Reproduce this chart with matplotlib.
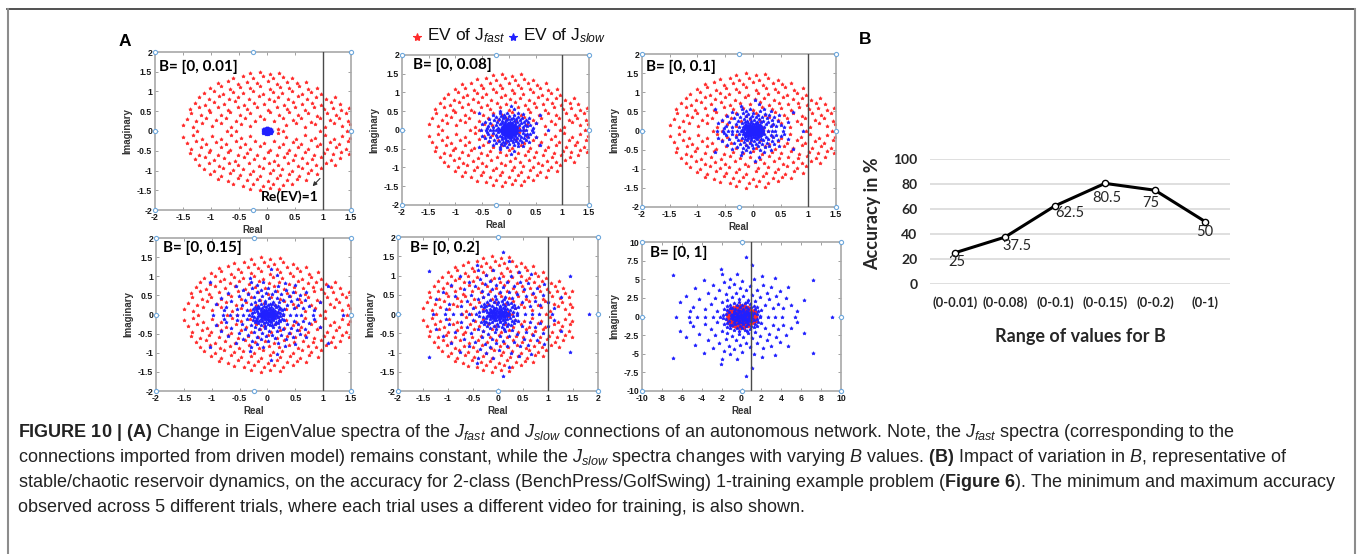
import numpy as np
import matplotlib
matplotlib.use('Agg')
import matplotlib.pyplot as plt
from matplotlib.lines import Line2D

plt.rcParams['font.family'] = ['Liberation Sans', 'DejaVu Sans']
plt.rcParams['mathtext.fontset'] = 'custom'
plt.rcParams['mathtext.rm'] = 'Liberation Sans'
plt.rcParams['mathtext.it'] = 'Liberation Sans:italic'
plt.rcParams['mathtext.bf'] = 'Liberation Sans:bold'

#
# Data
#
# J_fast eigenvalues, upper half plane (real matrix -> conjugate pairs)
jfast_upper = [
    (-1.50, 0.15), (-1.33, 0.10), (-1.16, 0.19), (-0.99, 0.12), (-0.83, 0.20), (-0.64, 0.09), (-0.47, 0.17),
    (-0.31, 0.13), (0.19, 0.06), (0.34, 0.15), (0.51, 0.19), (0.67, 0.10), (0.86, 0.17), (1.03, 0.09),
    (1.19, 0.20), (1.34, 0.12), (1.48, 0.17),
    (-1.43, 0.31), (-1.26, 0.26), (-1.09, 0.34), (-0.91, 0.27), (-0.74, 0.33), (-0.56, 0.25), (-0.39, 0.32),
    (-0.21, 0.26), (-0.06, 0.31), (0.13, 0.25), (0.29, 0.34), (0.46, 0.27), (0.61, 0.33), (0.79, 0.24),
    (0.94, 0.33), (1.12, 0.27), (1.28, 0.32), (1.44, 0.26),
    (-1.36, 0.45), (-1.18, 0.40), (-1.01, 0.47), (-0.83, 0.41), (-0.66, 0.48), (-0.48, 0.40), (-0.30, 0.45),
    (-0.13, 0.39), (0.06, 0.47), (0.22, 0.41), (0.40, 0.48), (0.56, 0.40), (0.73, 0.45), (0.89, 0.39),
    (1.07, 0.46), (1.23, 0.41), (1.41, 0.45),
    (-1.38, 0.56), (-1.21, 0.61), (-1.04, 0.54), (-0.87, 0.60), (-0.70, 0.53), (-0.52, 0.61), (-0.35, 0.56),
    (-0.17, 0.60), (0.01, 0.54), (0.17, 0.61), (0.35, 0.56), (0.50, 0.60), (0.68, 0.53), (0.84, 0.61),
    (1.01, 0.56), (1.17, 0.59), (1.33, 0.54), (1.47, 0.59),
    (-1.29, 0.72), (-1.11, 0.67), (-0.94, 0.74), (-0.76, 0.68), (-0.58, 0.75), (-0.41, 0.67), (-0.23, 0.72),
    (-0.05, 0.68), (0.12, 0.75), (0.30, 0.67), (0.47, 0.73), (0.63, 0.68), (0.81, 0.72), (0.97, 0.66),
    (1.14, 0.73), (1.30, 0.68),
    (-1.21, 0.85), (-1.03, 0.81), (-0.86, 0.88), (-0.68, 0.82), (-0.51, 0.87), (-0.33, 0.80), (-0.15, 0.88),
    (0.03, 0.82), (0.20, 0.86), (0.38, 0.81), (0.55, 0.88), (0.72, 0.82), (0.88, 0.86), (1.05, 0.80),
    (1.21, 0.86),
    (-1.13, 0.96), (-0.95, 1.00), (-0.78, 0.94), (-0.60, 0.99), (-0.43, 0.95), (-0.25, 1.01), (-0.08, 0.94),
    (0.10, 0.99), (0.27, 0.95), (0.45, 1.00), (0.62, 0.94), (0.79, 0.99), (0.96, 0.93),
    (-1.01, 1.09), (-0.83, 1.13), (-0.66, 1.07), (-0.48, 1.12), (-0.30, 1.08), (-0.12, 1.13), (0.05, 1.07),
    (0.23, 1.12), (0.40, 1.08), (0.58, 1.13), (0.74, 1.07), (0.90, 1.10),
    (-0.87, 1.22), (-0.70, 1.26), (-0.52, 1.20), (-0.35, 1.25), (-0.17, 1.21), (0.01, 1.26), (0.18, 1.20),
    (0.36, 1.25), (0.53, 1.21), (0.69, 1.25),
    (-0.60, 1.35), (-0.42, 1.38), (-0.25, 1.33), (-0.07, 1.38), (0.11, 1.33), (0.28, 1.37), (0.45, 1.33),
    (-0.30, 1.46), (-0.12, 1.50), (0.05, 1.45), (0.22, 1.48),
]
jfast_real = [-1.25, -0.72, -0.55, 0.28, 0.95, 1.42]

# J_slow eigenvalues read from the B=[0, 1] panel, upper half plane
jslow_upper = [
    (-6.90, 5.60), (-6.20, 1.90), (-5.55, 2.80), (-4.90, 1.30), (-4.70, 3.80), (-4.30, 2.30), (-3.80, 4.90),
    (-3.70, 1.00), (-3.40, 3.20), (-3.10, 1.70), (-2.90, 4.20), (-2.70, 2.50), (-2.50, 0.80), (-2.30, 3.60),
    (-2.10, 6.40), (-2.00, 5.70), (-2.00, 1.90), (-1.80, 4.60), (-1.60, 3.00), (-1.50, 2.20), (-1.30, 3.90),
    (-1.20, 5.10), (-1.00, 2.60), (-0.80, 4.30), (-0.60, 3.20), (-0.50, 5.75), (-0.30, 2.40), (-0.20, 3.80),
    (0.10, 4.70), (0.20, 2.80), (0.45, 8.00), (0.50, 3.50), (0.70, 2.20), (0.90, 4.10), (1.10, 6.90),
    (1.10, 2.90), (1.30, 5.00), (1.40, 2.10), (1.60, 3.60), (1.90, 2.60), (2.10, 5.50), (2.20, 4.20),
    (2.40, 1.60), (2.60, 3.20), (2.80, 2.30), (3.00, 4.00), (3.20, 1.10), (3.33, 5.20), (3.50, 2.70),
    (3.70, 1.70), (3.90, 3.40), (4.20, 1.20), (4.50, 2.50), (4.63, 3.96), (5.00, 1.50), (5.60, 0.80),
    (6.30, 2.20), (7.20, 4.90), (-5.20, 0.70), (2.00, 0.90), (-1.20, 1.10),
    (0.05, 0.08), (0.25, 0.12), (-0.18, 0.10), (0.40, 0.28), (-0.38, 0.22), (0.12, 0.32), (-0.10, 0.40),
    (0.62, 0.15), (-0.60, 0.12), (0.30, 0.52), (-0.30, 0.58), (0.55, 0.45), (-0.52, 0.46), (0.80, 0.30),
    (-0.82, 0.32), (0.05, 0.70), (0.45, 0.78), (-0.38, 0.82), (0.92, 0.62), (-0.78, 0.70), (1.10, 0.18),
    (-1.08, 0.20), (0.70, 0.98), (-0.62, 1.05), (0.20, 1.05), (-0.12, 1.25), (1.22, 0.52), (-1.25, 0.58),
    (0.48, 1.30), (-0.95, 1.18), (1.35, 0.95), (-1.42, 0.88), (1.00, 1.25), (0.02, 1.60), (0.35, 1.75),
    (-0.45, 1.55), (1.52, 0.30), (-1.55, 0.35), (1.70, 0.78), (-1.72, 1.00), (0.85, 1.62), (-1.15, 1.50),
    (1.30, 1.45), (-0.80, 1.85), (1.85, 0.12), (-1.90, 0.22), (0.60, 1.90), (-0.25, 1.95), (1.55, 1.22),
    (-1.45, 1.35), (0.18, 0.22), (-0.28, 0.05), (0.35, 0.03), (0.70, 0.62), (-0.70, 0.45), (0.15, 0.92),
    (-0.20, 0.75), (0.90, 0.05), (-0.90, 0.08), (0.58, 0.30), (-0.48, 0.30),
]
jslow_real = [-6.55, -5.3, -4.5, -3.7, -2.9, -2.2, 2.7, 3.4, 4.07, 5.4, 9.1]

# B = [0, b] for the six panels; J_slow spectrum scales with b
b_max = [0.01, 0.08, 0.1, 0.15, 0.2, 1]
titles = ['B= [0, 0.01]', 'B= [0, 0.08]', 'B= [0, 0.1]', 'B= [0, 0.15]', 'B= [0, 0.2]', 'B= [0, 1]']
xlims = [(-2, 1.5), (-2, 1.5), (-2, 1.5), (-2, 1.5), (-2, 2), (-10, 10)]
ylims = [(-2, 2), (-2, 2), (-2, 2), (-2, 2), (-2, 2), (-10, 10)]
xsteps = [0.5, 0.5, 0.5, 0.5, 0.5, 2]
ysteps = [0.5, 0.5, 0.5, 0.5, 0.5, 2.5]

# panel B
ranges = ['(0-0.01)', '(0-0.08)', '(0-0.1)', '(0-0.15)', '(0-0.2)', '(0-1)']
accuracy = [25, 37.5, 62.5, 80.5, 75, 50]
acc_labels = ['25', '37.5', '62.5', '80.5', '75', '50']

caption = [
    r"$\mathbf{FIGURE\ 10\ |\ (A)}$ Change in EigenValue spectra of the $J_{fast}$ and $J_{slow}$ connections "
    r"of an autonomous network. Note, the $J_{fast}$ spectra (corresponding to the",
    r"connections imported from driven model) remains constant, while the $J_{slow}$ spectra changes with "
    r"varying $B$ values. $\mathbf{(B)}$ Impact of variation in $B$, representative of",
    r"stable/chaotic reservoir dynamics, on the accuracy for 2-class (BenchPress/GolfSwing) 1-training "
    r"example problem ($\mathbf{Figure\ 6}$). The minimum and maximum accuracy",
    r"observed across 5 different trials, where each trial uses a different video for training, is also shown.",
]

#
# Figure
#
W, H = 1357, 554
fig = plt.figure(figsize=(W / 100, H / 100), dpi=100)


def px_axes(x0, y0, x1, y1):
    return fig.add_axes([x0 / W, 1 - y1 / H, (x1 - x0) / W, (y1 - y0) / H])


fast = np.array(jfast_upper)
fast_x = np.concatenate([fast[:, 0], fast[:, 0], jfast_real])
fast_y = np.concatenate([fast[:, 1], -fast[:, 1], np.zeros(len(jfast_real))])
slow = np.array(jslow_upper)
slow_x = np.concatenate([slow[:, 0], slow[:, 0], jslow_real])
slow_y = np.concatenate([slow[:, 1], -slow[:, 1], np.zeros(len(jslow_real))])

boxes = [(155, 52, 351, 210), (402, 55, 589, 205), (642, 54, 836, 207),
         (156, 238, 351, 391), (398, 237, 598, 391), (642, 242, 841, 391)]
title_pos = [(0.02, 0.907), (0.059, 0.933), (0.02, 0.917), (0.036, 0.935), (0.06, 0.928), (0.04, 0.926)]

axes = []
for i, box in enumerate(boxes):
    ax = px_axes(*box)
    axes.append(ax)
    b = b_max[i]
    ax.plot(fast_x, fast_y, ls='none', marker='*', ms=2.6, mew=0.5, color='#ff2a2a', zorder=2)
    ax.plot(slow_x * b, slow_y * b, ls='none', marker='*', ms=2.6, mew=0.5, color='#2020ff', zorder=3)
    ax.axvline(1, color='#4a4a4a', lw=1.0, zorder=4)
    ax.set_xlim(xlims[i])
    ax.set_ylim(ylims[i])
    ax.set_xticks(np.arange(xlims[i][0], xlims[i][1] + 1e-9, xsteps[i]))
    ax.set_yticks(np.arange(ylims[i][0], ylims[i][1] + 1e-9, ysteps[i]))
    ax.set_xticklabels(['%g' % v for v in ax.get_xticks()], fontweight='bold')
    ax.set_yticklabels(['%g' % v for v in ax.get_yticks()], fontweight='bold')
    ax.tick_params(direction='in', length=2.5, width=0.6, color='#909090', labelsize=6.3, pad=2,
                   top=True, right=True, labelcolor='#1a1a1a')
    for sp in ax.spines.values():
        sp.set_color('#a8a8a8')
        sp.set_linewidth(1.2)
    wpx = box[2] - box[0]
    hpx = box[3] - box[1]
    ax.set_ylabel('Imaginary', fontsize=7, fontweight='bold', color='#333333')
    ax.yaxis.set_label_coords(-23.0 / wpx, 0.5)
    ax.set_xlabel('Real', fontsize=7, fontweight='bold', color='#333333')
    ax.xaxis.set_label_coords(0.5, -15.0 / hpx)
    ax.text(title_pos[i][0], title_pos[i][1], titles[i], transform=ax.transAxes, family='Lato',
            fontweight='bold', fontsize=11, va='center', ha='left', zorder=6)
    # figure-editor selection handles
    for fx, fy in [(0, 0), (0.5, 0), (1, 0), (0, 0.5), (1, 0.5), (0, 1), (0.5, 1), (1, 1)]:
        ax.plot(fx, fy, 'o', transform=ax.transAxes, clip_on=False, ms=3, mfc='white',
                mec='#6fa8dc', mew=0.8, zorder=7)

# Re(EV)=1 note
axes[0].text(0.41, -1.67, 'Re(EV)=1', family='Lato', fontweight='bold', fontsize=10,
             ha='center', va='center', zorder=6)
axes[0].annotate('', xy=(0.78, -1.45), xytext=(0.98, -1.15),
                 arrowprops=dict(arrowstyle='-|>', color='#333333', lw=0.8, mutation_scale=6))

# legend above panel 2
for mx, col, lab in [(416.7, '#ff2a2a', r'EV of J$_{fast}$'), (513, '#2020ff', r'EV of J$_{slow}$')]:
    fig.add_artist(Line2D([mx / W], [1 - 37 / H], marker='*', ms=6, mew=0.8, color=col, ls='none'))
    fig.text((mx + 10) / W, 1 - 36 / H, lab, fontsize=12.5, ha='left', va='center', color='#111111')

fig.text(125 / W, 1 - 41 / H, 'A', fontsize=12.5, fontweight='bold', ha='center', va='center')
fig.text(865 / W, 1 - 40 / H, 'B', fontsize=12.5, fontweight='bold', ha='center', va='center')

#
# Panel B
#
axb = px_axes(930, 159, 1230, 284)
xs = np.arange(len(ranges))
axb.plot(xs, accuracy, color='black', lw=2.2, marker='o', ms=4.5, mfc='white', mec='black', mew=1,
         zorder=3, clip_on=False)
axb.set_xlim(-0.5, len(ranges) - 0.5)
axb.set_ylim(0, 100)
axb.set_yticks(range(0, 101, 20))
axb.set_xticks(xs)
axb.set_xticklabels(ranges, family='Lato', fontweight='bold', fontsize=9.3, color='#262626')
axb.set_yticklabels([str(v) for v in range(0, 101, 20)], family='Lato', fontweight='bold',
                    fontsize=10, color='#262626')
axb.yaxis.grid(True, color='#d9d9d9', lw=1.2)
axb.set_axisbelow(True)
for sp in axb.spines.values():
    sp.set_visible(False)
axb.tick_params(axis='x', length=0, pad=9)
axb.tick_params(axis='y', length=0, pad=9)
axb.set_ylabel('Accuracy in %', family='Lato', fontweight='bold', fontsize=13, color='#262626')
axb.yaxis.set_label_coords(-0.163, 0.564)
axb.set_xlabel('Range of values for B', family='Lato', fontweight='bold', fontsize=13, color='#262626')
axb.xaxis.set_label_coords(0.5, -0.352)
label_off = [(2, -9), (12, -9), (15, -7), (2, -15), (-4, -13), (0, -10)]
for x, y, t, off in zip(xs, accuracy, acc_labels, label_off):
    axb.annotate(t, (x, y), xytext=off, textcoords='offset pixels', family='Lato', fontsize=10.5,
                 color='#262626', ha='center', va='center')

#
# Caption and frame
#
for k, line in enumerate(caption):
    fig.text(18 / W, 1 - (437 + 25 * k) / H, line, fontsize=13.0, color='#222222', ha='left', va='baseline')

fig.add_artist(Line2D([7 / W, 1355 / W], [1 - 9 / H, 1 - 9 / H], color='#333333', lw=1.2))
fig.add_artist(Line2D([7.5 / W, 7.5 / W], [0, 1 - 9 / H], color='#8c8c8c', lw=1.5))
fig.add_artist(Line2D([1354.5 / W, 1354.5 / W], [0, 1 - 9 / H], color='#8c8c8c', lw=1.5))

fig.savefig('out.png', dpi=100)
